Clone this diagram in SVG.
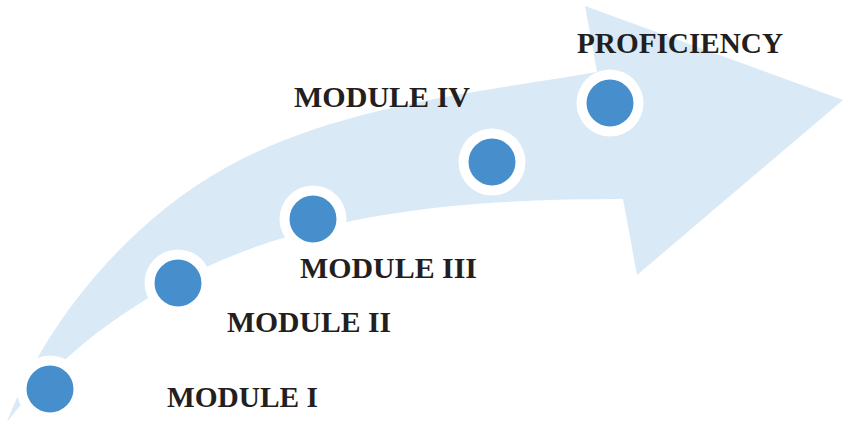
<svg xmlns="http://www.w3.org/2000/svg" width="844" height="425" viewBox="0 0 844 425">
  <style>
    .band { fill: #d9e9f5; }
    .ring { fill: #ffffff; }
    .dot { fill: #478fcc; }
    .label { font-family: "Liberation Serif", "Times New Roman", serif; font-weight: bold; font-size: 30px; fill: #231f20; }
  </style>
  <defs>
    <g id="marker-dot">
      <circle class="ring" r="33.5"/>
      <circle class="dot" r="23.5"/>
    </g>
  </defs>
  <rect width="844" height="425" fill="#ffffff"/>
  <g id="arrow">
    <path class="band" d="M7,422 C46.5,319 130.6,220 227,167 C338.3,105.8 471.8,93.3 597,72 L585,6 L843,100 L637,275 L623,199 C509,199 392.2,205.2 283,238 C177.6,269.6 74,334.8 7,422 Z"/>
  </g>
  <g id="connectors"></g>
  <g id="module-1">
    <use href="#marker-dot" x="50" y="389"/>
    <text class="label" x="167" y="407" textLength="151" lengthAdjust="spacingAndGlyphs">MODULE I</text>
  </g>
  <g id="module-2">
    <use href="#marker-dot" x="178" y="283"/>
    <text class="label" x="227" y="332" textLength="164" lengthAdjust="spacingAndGlyphs">MODULE II</text>
  </g>
  <g id="module-3">
    <use href="#marker-dot" x="313" y="219"/>
    <text class="label" x="300" y="278" textLength="177" lengthAdjust="spacingAndGlyphs">MODULE III</text>
  </g>
  <g id="module-4">
    <use href="#marker-dot" x="492" y="162"/>
    <text class="label" x="294" y="107" textLength="176" lengthAdjust="spacingAndGlyphs">MODULE IV</text>
  </g>
  <g id="proficiency">
    <use href="#marker-dot" x="610" y="103"/>
    <text class="label" x="577" y="53" textLength="206" lengthAdjust="spacingAndGlyphs">PROFICIENCY</text>
  </g>
</svg>
